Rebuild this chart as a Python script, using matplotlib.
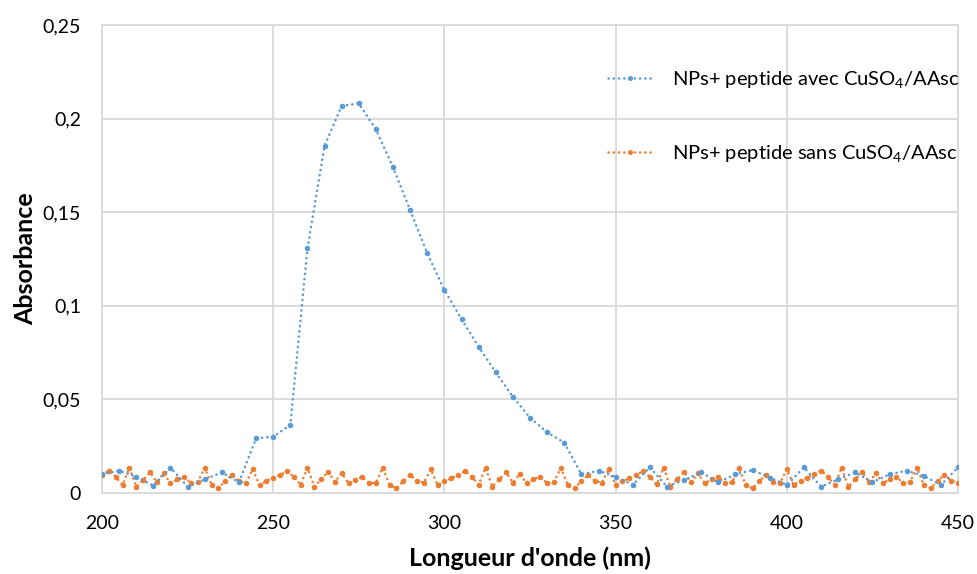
import matplotlib
matplotlib.use("Agg")
import matplotlib.pyplot as plt
from matplotlib.ticker import FuncFormatter, MultipleLocator

plt.rcParams['font.family'] = ['Lato', 'DejaVu Sans']
plt.rcParams['mathtext.default'] = 'regular'

# Blue series: every 5 nm, 200..450
wl_blue = list(range(200, 451, 5))
abs_blue = [0.0100, 0.0119, 0.0087, 0.0039, 0.0135, 0.0034, 0.0073, 0.0110, 0.0057,
            0.0292, 0.0301, 0.0363, 0.1307, 0.1855, 0.2068, 0.2081, 0.1942, 0.1739,
            0.1511, 0.1280, 0.1084, 0.0929, 0.0781, 0.0644, 0.0514, 0.0402, 0.0324,
            0.0269, 0.0100, 0.0119, 0.0087, 0.0043, 0.0137, 0.0034, 0.0069, 0.0110,
            0.0057, 0.0100, 0.0123, 0.0082, 0.0043, 0.0137, 0.0034, 0.0073, 0.0110,
            0.0057, 0.0100, 0.0119, 0.0091, 0.0043, 0.0137]

# Orange series: every 2 nm, 200..450
wl_orange = list(range(200, 451, 2))
abs_orange = [0.0096, 0.0119, 0.0087, 0.0043, 0.0135, 0.0034, 0.0069, 0.0110, 0.0060, 0.0105,
              0.0052, 0.0073, 0.0087, 0.0052, 0.0059, 0.0135, 0.0043, 0.0025, 0.0066, 0.0096,
              0.0064, 0.0052, 0.0127, 0.0043, 0.0064, 0.0082, 0.0096, 0.0117, 0.0087, 0.0043,
              0.0135, 0.0034, 0.0073, 0.0114, 0.0059, 0.0105, 0.0052,
              0.0069, 0.0087, 0.0052, 0.0055, 0.0135, 0.0043, 0.0025, 0.0064, 0.0096, 0.0066,
              0.0055, 0.0127, 0.0043, 0.0064, 0.0078, 0.0096, 0.0117, 0.0087, 0.0043, 0.0135,
              0.0034, 0.0073, 0.0110, 0.0055, 0.0101, 0.0052, 0.0073, 0.0087, 0.0052, 0.0057,
              0.0135, 0.0043, 0.0025, 0.0064, 0.0096, 0.0064, 0.0055, 0.0127, 0.0043, 0.0064,
              0.0078, 0.0096, 0.0117, 0.0087, 0.0046,
              0.0135, 0.0034, 0.0073, 0.0114, 0.0057, 0.0105, 0.0052, 0.0073, 0.0087, 0.0052,
              0.0057, 0.0135, 0.0043, 0.0025, 0.0066, 0.0096, 0.0060, 0.0052, 0.0127, 0.0043,
              0.0066, 0.0082, 0.0100, 0.0119, 0.0087, 0.0043, 0.0135, 0.0034, 0.0073, 0.0114,
              0.0057, 0.0105, 0.0052, 0.0073, 0.0087, 0.0052, 0.0060, 0.0135, 0.0043, 0.0025,
              0.0066, 0.0096, 0.0066, 0.0052]

label_blue = 'NPs+ peptide avec CuSO$_4$/AAsc'
label_orange = 'NPs+ peptide sans CuSO$_4$/AAsc'

c_blue = '#5B9BD5'
c_orange = '#ED7D31'

fig = plt.figure(figsize=(9.77, 5.74), dpi=100)
ax = fig.add_axes([0.1044, 0.1411, 0.8762, 0.8153])

dot = (0, (0.1, 2.0))
ax.plot(wl_orange, abs_orange, color=c_orange, linestyle=dot, linewidth=1.8,
        dash_capstyle='round', marker='o', markersize=4, markeredgewidth=0,
        label=label_orange, zorder=3)
ax.plot(wl_blue, abs_blue, color=c_blue, linestyle=dot, linewidth=1.8,
        dash_capstyle='round', marker='o', markersize=4, markeredgewidth=0,
        label=label_blue, zorder=4)

ax.set_xlim(200, 450)
ax.set_ylim(0, 0.25)
ax.xaxis.set_major_locator(MultipleLocator(50))
ax.yaxis.set_major_locator(MultipleLocator(0.05))

def yfmt(v, pos):
    s = ('%.2f' % v).rstrip('0').rstrip('.')
    return s.replace('.', ',')
ax.yaxis.set_major_formatter(FuncFormatter(yfmt))

ax.grid(True, color='#D9D9D9', linewidth=1.3, zorder=0)
ax.set_axisbelow(True)
for sp in ax.spines.values():
    sp.set_color('#D9D9D9')
    sp.set_linewidth(1.3)
ax.tick_params(length=0, labelsize=14, colors='#000000')
ax.tick_params(axis='y', pad=15)
ax.tick_params(axis='x', pad=16)

ax.set_xlabel("Longueur d'onde (nm)", fontsize=18, fontweight='bold', labelpad=10)
ax.set_ylabel('Absorbance', fontsize=18, fontweight='bold', labelpad=4)

handles, labels = ax.get_legend_handles_labels()
leg = ax.legend(handles[::-1], labels[::-1], loc='upper right',
                bbox_to_anchor=(1.023, 0.944), frameon=False, fontsize=14.5,
                handlelength=2.15, handletextpad=1.0, labelspacing=2.6,
                markerscale=0.9)

fig.savefig('out.png', dpi=100)
